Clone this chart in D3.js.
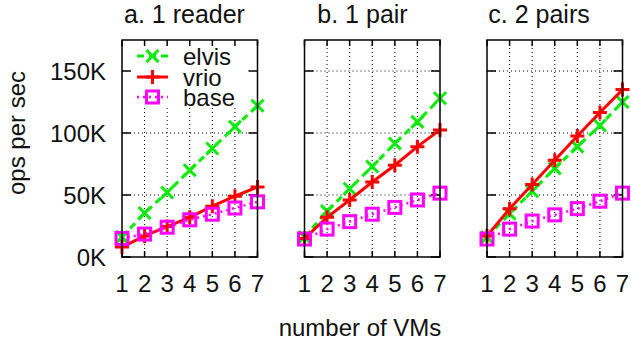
<!DOCTYPE html>
<html>
<head>
<meta charset="utf-8">
<script src="https://cdn.jsdelivr.net/npm/d3@7"></script>
<style>
  html, body { margin: 0; padding: 0; background: #fff; }
  svg { display: block; font-family: "Liberation Sans", Arial, sans-serif; }
</style>
</head>
<body>
<svg id="chart" width="631" height="346"></svg>
<script>
// Throughput (thousands of ops per sec) vs. number of VMs, three scenarios
const vmCounts = [1, 2, 3, 4, 5, 6, 7];
const panelTitles = ["a. 1 reader", "b. 1 pair", "c. 2 pairs"];
const seriesNames = ["elvis", "vrio", "base"];
const yTickValues = [0, 50, 100, 150];

const elvisReader = [16, 35.5, 52, 70, 87.5, 105, 122];
const vrioReader  = [8, 17, 24.5, 32, 41, 49, 56.5];
const baseReader  = [15, 18.5, 24, 30, 34.5, 39.5, 44.5];

const elvisPair = [16, 37, 55, 73, 91.5, 109, 128];
const vrioPair  = [15, 32, 46, 60.5, 74, 89, 102.5];
const basePair  = [14.5, 22.5, 28.5, 34.5, 40, 46, 51.5];

const elvisTwoPairs = [16, 35, 53, 71.5, 89, 106, 125];
const vrioTwoPairs  = [17, 39, 58.5, 78, 97.5, 116.5, 135];
const baseTwoPairs  = [14.5, 22.5, 29, 34, 39, 45, 51.5];

const panels = [
  { title: panelTitles[0], series: [elvisReader, vrioReader, baseReader] },
  { title: panelTitles[1], series: [elvisPair, vrioPair, basePair] },
  { title: panelTitles[2], series: [elvisTwoPairs, vrioTwoPairs, baseTwoPairs] }
];

const styles = {
  elvis: { color: "#00ee00", dash: "7,5", width: 3, marker: "cross" },
  vrio:  { color: "#ff0000", dash: null, width: 3, marker: "plus" },
  base:  { color: "#ff00ff", dash: "2,4", width: 2.5, marker: "square" }
};

const svg = d3.select("#chart");
const plotTop = 40, plotBottom = 257, panelW = 135.5, step = 182.5, firstLeft = 122;
const titleCenters = [184.5, 362.5, 539];

const y = d3.scaleLinear().domain([0, 175]).range([plotBottom, plotTop]);

function drawMarker(g, kind, cx, cy, color) {
  const s = 6;
  if (kind === "cross") {
    g.append("path")
      .attr("d", `M${cx - s},${cy - s}L${cx + s},${cy + s}M${cx - s},${cy + s}L${cx + s},${cy - s}`)
      .attr("stroke", color).attr("stroke-width", 3).attr("fill", "none");
  } else if (kind === "plus") {
    g.append("path")
      .attr("d", `M${cx - s - 1},${cy}L${cx + s + 1},${cy}M${cx},${cy - s - 1}L${cx},${cy + s + 1}`)
      .attr("stroke", color).attr("stroke-width", 3).attr("fill", "none");
  } else {
    g.append("rect")
      .attr("x", cx - 6).attr("y", cy - 6).attr("width", 12).attr("height", 12)
      .attr("stroke", color).attr("stroke-width", 3).attr("fill", "none");
  }
}

panels.forEach((p, i) => {
  const left = firstLeft + i * step;
  const x = d3.scaleLinear().domain([1, 7]).range([left, left + panelW]);
  const g = svg.append("g");

  // dotted grid
  g.selectAll(".vgrid").data(vmCounts.slice(1, -1)).enter().append("line")
    .attr("x1", d => x(d)).attr("x2", d => x(d))
    .attr("y1", plotTop).attr("y2", plotBottom)
    .attr("stroke", "#000").attr("stroke-width", 1).attr("stroke-dasharray", "1,3");
  g.selectAll(".hgrid").data(yTickValues.slice(1)).enter().append("line")
    .attr("x1", left).attr("x2", left + panelW)
    .attr("y1", d => y(d)).attr("y2", d => y(d))
    .attr("stroke", "#000").attr("stroke-width", 1).attr("stroke-dasharray", "1,3");

  // legend box (opaque) in the first panel
  if (i === 0) {
    g.append("rect").attr("x", left + 1).attr("y", plotTop + 1)
      .attr("width", panelW - 2).attr("height", 66).attr("fill", "#fff");
  }

  // tick marks on all four sides
  vmCounts.forEach(v => {
    g.append("line").attr("x1", x(v)).attr("x2", x(v)).attr("y1", plotBottom).attr("y2", plotBottom - 6)
      .attr("stroke", "#000").attr("stroke-width", 1.5);
    g.append("line").attr("x1", x(v)).attr("x2", x(v)).attr("y1", plotTop).attr("y2", plotTop + 6)
      .attr("stroke", "#000").attr("stroke-width", 1.5);
  });
  yTickValues.forEach(v => {
    g.append("line").attr("x1", left).attr("x2", left + 9).attr("y1", y(v)).attr("y2", y(v))
      .attr("stroke", "#000").attr("stroke-width", 1.5);
    g.append("line").attr("x1", left + panelW).attr("x2", left + panelW - 9).attr("y1", y(v)).attr("y2", y(v))
      .attr("stroke", "#000").attr("stroke-width", 1.5);
  });

  // x tick labels
  g.selectAll(".xl").data(vmCounts).enter().append("text")
    .attr("x", d => x(d)).attr("y", 292).attr("text-anchor", "middle")
    .attr("font-size", 24).attr("fill", "#111").text(d => d);

  // y tick labels on the first panel only
  if (i === 0) {
    g.selectAll(".yl").data(yTickValues).enter().append("text")
      .attr("x", 106).attr("y", d => y(d)).attr("dy", "0.36em").attr("text-anchor", "end")
      .attr("font-size", 24).attr("fill", "#111").text(d => d + "K");
  }

  // title
  g.append("text").attr("x", titleCenters[i]).attr("y", 23).attr("text-anchor", "middle")
    .attr("font-size", 25).attr("fill", "#111").text(p.title);

  // series lines and markers
  p.series.forEach((vals, si) => {
    const st = styles[seriesNames[si]];
    const line = d3.line().x((d, k) => x(vmCounts[k])).y(d => y(d));
    g.append("path").datum(vals).attr("d", line)
      .attr("fill", "none").attr("stroke", st.color).attr("stroke-width", st.width)
      .attr("stroke-dasharray", st.dash);
    vals.forEach((v, k) => drawMarker(g, st.marker, x(vmCounts[k]), y(v), st.color));
  });

  // frame
  g.append("rect").attr("x", left).attr("y", plotTop).attr("width", panelW).attr("height", plotBottom - plotTop)
    .attr("fill", "none").attr("stroke", "#000").attr("stroke-width", 1.5);

  // legend entries
  if (i === 0) {
    const rows = [56, 77, 97];
    seriesNames.forEach((name, si) => {
      const st = styles[name];
      g.append("line").attr("x1", 137).attr("x2", 168).attr("y1", rows[si]).attr("y2", rows[si])
        .attr("stroke", st.color).attr("stroke-width", st.width).attr("stroke-dasharray", st.dash);
      drawMarker(g, st.marker, 152.5, rows[si], st.color);
      g.append("text").attr("x", 183).attr("y", rows[si]).attr("dy", "0.36em")
        .attr("font-size", 24).attr("fill", "#111").text(name);
    });
  }
});

// axis titles
svg.append("text").attr("transform", "translate(25,133) rotate(-90)")
  .attr("text-anchor", "middle").attr("font-size", 24).attr("fill", "#111").text("ops per sec");
svg.append("text").attr("x", 360).attr("y", 336).attr("text-anchor", "middle")
  .attr("font-size", 24).attr("fill", "#111").text("number of VMs");
</script>
</body>
</html>
